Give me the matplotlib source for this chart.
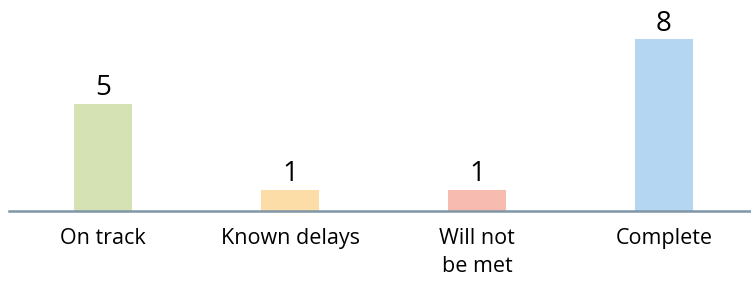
import matplotlib
matplotlib.use('Agg')
import matplotlib.pyplot as plt

categories = ['On track', 'Known delays', 'Will not\nbe met', 'Complete']
values = [5, 1, 1, 8]
colors = ['#d4e2b4', '#fcdda8', '#f8bbb0', '#b5d6f2']

plt.rcParams['font.family'] = ['Open Sans', 'DejaVu Sans']

fig = plt.figure(figsize=(7.51, 2.84), dpi=100)
ax = fig.add_axes([9 / 751, 73 / 284, 742 / 751, 193.5 / 284])

x = list(range(len(values)))
bars = ax.bar(x, values, width=0.31, color=colors)

for xi, v in zip(x, values):
    ax.text(xi, v + 0.06, str(v), ha='center', va='bottom', fontsize=20, color='black')

ax.set_xlim(-0.503, 3.465)
ax.set_ylim(0, 9)
ax.set_xticks(x)
ax.set_xticklabels(categories, fontsize=15.5, color='black', linespacing=1.45)
ax.tick_params(axis='x', length=0, pad=12)
ax.set_yticks([])

for side in ['top', 'right', 'left']:
    ax.spines[side].set_visible(False)
ax.spines['bottom'].set_color('#7f96a6')
ax.spines['bottom'].set_linewidth(1.8)

fig.savefig('out.png', dpi=100)
